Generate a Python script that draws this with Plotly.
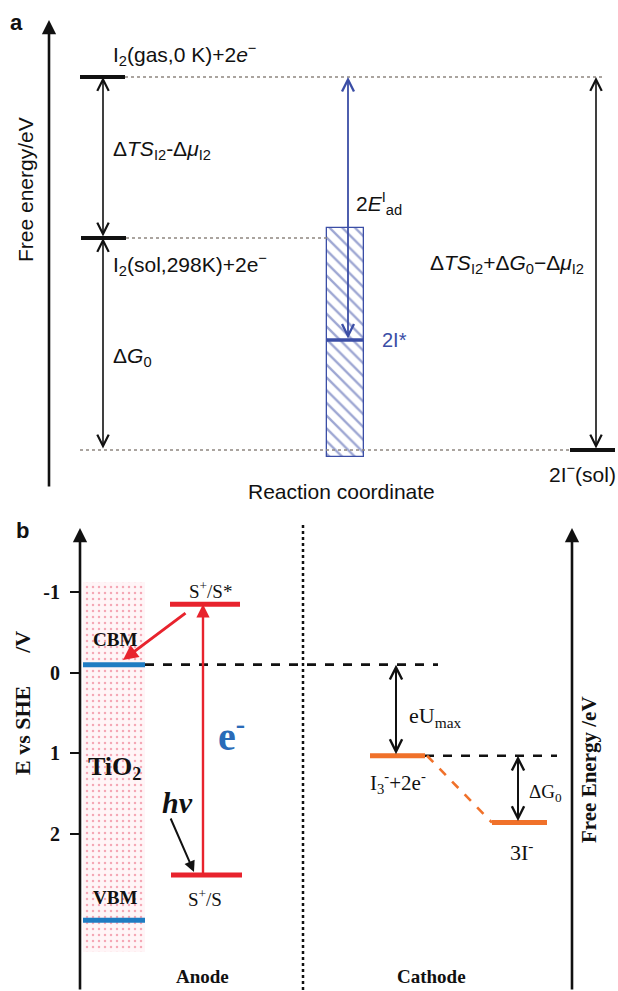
import plotly.graph_objects as go

W, H = 618, 991

# ---------------- Panel a data (free energy, eV, relative to 2I−(sol)) ----------------
a_states = ["I2(gas,0 K)", "I2(sol,298K)", "2I*", "2I-(sol)"]
a_energy = [3.73, 2.12, 1.10, 0.0]
a_hatch_low = -0.07          # spread of 2I* adsorption energies
a_hatch_high = 2.22

# ---------------- Panel b data (potential, V vs SHE) ----------------
b_levels = ["CBM", "VBM", "S+/S*", "S+/S", "I3-+2e-", "3I-"]
b_potential = [-0.10, 3.07, -0.85, 2.51, 1.03, 1.86]
tio2_low, tio2_high = -1.13, 3.47
b_tickvals = [-1, 0, 1, 2]
b_ticktext = ["-1", "0", "1", "2"]

E = dict(zip(a_states, a_energy))
V = dict(zip(b_levels, b_potential))

# ---------------- layout geometry ----------------
SPLIT = 1 - 500 / H            # paper fraction where panel b begins
A_RANGE = [-0.5, 4.5]          # panel a energy axis
B_RANGE = [(991 - 672.7) / 80.6, (500 - 672.7) / 80.6]   # reversed potential axis

def a_px(p):   # panel-a vertical layout helper (pixel -> energy units)
    return (450 - p) / 100.0

def b_px(p):   # panel-b vertical layout helper (pixel -> V units)
    return (p - 672.7) / 80.6

BLACK = "#111111"
BLUE_A = "#3b4ea6"
RED = "#e8232d"
BLUE_B = "#1f7cc2"
ORANGE = "#f0712a"
SANS = "Liberation Sans, Arial, sans-serif"
SERIF = "Liberation Serif, Times New Roman, serif"

fig = go.Figure()

def hline(x0, x1, y, color, width, dash="solid", panel="a"):
    fig.add_trace(go.Scatter(
        x=[x0, x1], y=[y, y], mode="lines",
        line=dict(color=color, width=width, dash=dash),
        xaxis="x" if panel == "a" else "x2",
        yaxis="y" if panel == "a" else "y2",
        hoverinfo="skip", showlegend=False))

def seg(x0, y0, x1, y1, color, width, dash="solid", panel="a"):
    fig.add_trace(go.Scatter(
        x=[x0, x1], y=[y0, y1], mode="lines",
        line=dict(color=color, width=width, dash=dash),
        xaxis="x" if panel == "a" else "x2",
        yaxis="y" if panel == "a" else "y2",
        hoverinfo="skip", showlegend=False))

annos = []

def arrow(x, y, ax, ay, color, width, panel="a", both=False, head=2, size=1.0):
    xr, yr = ("x", "y") if panel == "a" else ("x2", "y2")
    d = dict(x=x, y=y, ax=ax, ay=ay, xref=xr, yref=yr, axref=xr, ayref=yr,
             text="", showarrow=True, arrowcolor=color, arrowwidth=width,
             arrowhead=head, arrowsize=size, standoff=0, startstandoff=0)
    if both:
        d.update(arrowside="end+start", startarrowhead=head, startarrowsize=size)
    annos.append(d)

def label(x, y, text, size, color=BLACK, family=SANS, panel="a", xanchor="left",
          yanchor="middle", angle=0):
    xr, yr = ("x", "y") if panel == "a" else ("x2", "y2")
    annos.append(dict(x=x, y=y, xref=xr, yref=yr, text=text, showarrow=False,
                      xanchor=xanchor, yanchor=yanchor, textangle=angle,
                      font=dict(size=size, color=color, family=family)))

# ======================= Panel a =======================
# hatched 2I* band
fig.add_trace(go.Bar(
    x=[345.5], y=[a_hatch_high - a_hatch_low], base=[a_hatch_low], width=[37],
    marker=dict(color="white", line=dict(color=BLUE_A, width=1.3),
                pattern=dict(shape="\\", fgcolor=BLUE_A, bgcolor="white",
                             size=9, solidity=0.26)),
    xaxis="x", yaxis="y", hoverinfo="skip", showlegend=False))

# dotted guide lines
hline(125, 605, E["I2(gas,0 K)"], "#8f8680", 1.3, "dot")
hline(126, 327, E["I2(sol,298K)"], "#8f8680", 1.3, "dot")
hline(80, 570, E["2I-(sol)"], "#8f8680", 1.3, "dot")

# levels
hline(80, 125, E["I2(gas,0 K)"], BLACK, 4)
hline(81, 126, E["I2(sol,298K)"], BLACK, 4)
hline(570, 615, E["2I-(sol)"], BLACK, 4)
hline(327, 364, E["2I*"], BLUE_A, 3.5)

# axis arrow
arrow(49, a_px(20), 49, a_px(488), BLACK, 2.6, head=2, size=1.1)

# double arrows
arrow(103, E["I2(gas,0 K)"], 103, E["I2(sol,298K)"], BLACK, 1.6, both=True, head=5, size=1.4)
arrow(103, E["I2(sol,298K)"], 103, E["2I-(sol)"], BLACK, 1.6, both=True, head=5, size=1.4)
arrow(596, E["I2(gas,0 K)"], 596, E["2I-(sol)"], BLACK, 1.6, both=True, head=5, size=1.4)
arrow(348, E["I2(gas,0 K)"], 348, E["2I*"], BLUE_A, 1.8, both=True, head=5, size=1.3)

# panel a texts
label(8, a_px(22), "<b>a</b>", 22)
label(111, a_px(54), "I<sub>2</sub>(gas,0 K)+2<i>e</i><sup>−</sup>", 21)
label(111, a_px(150), "Δ<i>TS</i><sub>I2</sub>-Δ<i>μ</i><sub>I2</sub>", 21)
label(111, a_px(264), "I<sub>2</sub>(sol,298K)+2e<sup>−</sup>", 21)
label(111, a_px(357), "Δ<i>G</i><sub>0</sub>", 21)
label(354, a_px(203), "2<i>E</i><sup>I</sup><sub>ad</sub>", 21)
label(380, E["2I*"], "2I*", 20, color=BLUE_A)
label(428, a_px(264), "Δ<i>TS</i><sub>I2</sub>+Δ<i>G</i><sub>0</sub>−Δ<i>μ</i><sub>I2</sub>", 21)
label(547, a_px(473), "2I<sup>−</sup>(sol)", 21)
label(341, a_px(491), "Reaction coordinate", 21, xanchor="center")
label(25, a_px(190), "Free energy/eV", 21, xanchor="center", angle=-90)

# ======================= Panel b =======================
# TiO2 dotted block
fig.add_trace(go.Bar(
    x=[114], y=[tio2_high - tio2_low], base=[tio2_low], width=[62],
    marker=dict(color="#fff5f7", line=dict(width=0),
                pattern=dict(shape=".", fgcolor="#ea5a73", bgcolor="#fff5f7",
                             size=6, solidity=0.14)),
    xaxis="x2", yaxis="y2", hoverinfo="skip", showlegend=False))

# separator & dashed guides
seg(303, b_px(525), 303, b_px(991), BLACK, 2.5, "dot", panel="b")
hline(145, 438, V["CBM"], BLACK, 2.6, "dash", panel="b")
hline(425, 557, V["I3-+2e-"], BLACK, 2.6, "dash", panel="b")
seg(427, V["I3-+2e-"], 492, V["3I-"], ORANGE, 2.6, "dash", panel="b")

# levels
hline(83, 145, V["CBM"], BLUE_B, 5, panel="b")
hline(83, 145, V["VBM"], BLUE_B, 5, panel="b")
hline(170, 240, V["S+/S*"], RED, 5, panel="b")
hline(171, 242, V["S+/S"], RED, 5, panel="b")
hline(370, 425, V["I3-+2e-"], ORANGE, 5, panel="b")
hline(492, 547, V["3I-"], ORANGE, 5, panel="b")

# axes arrows
arrow(80, b_px(528), 80, b_px(991), BLACK, 2.6, panel="b", head=2, size=1.1)
arrow(572, b_px(528), 572, b_px(991), BLACK, 2.6, panel="b", head=2, size=1.1)

# process arrows
arrow(203, V["S+/S*"], 203, V["S+/S"], RED, 2.4, panel="b", head=2, size=1.1)
arrow(123, b_px(660), 187, b_px(612), RED, 3, panel="b", head=2, size=1.0)
arrow(194, b_px(872), 170, b_px(817), BLACK, 2, panel="b", head=2, size=1.1)
arrow(396, V["CBM"], 396, V["I3-+2e-"], BLACK, 2, panel="b", both=True, head=5, size=1.2)
arrow(518, V["I3-+2e-"], 518, V["3I-"], BLACK, 2, panel="b", both=True, head=5, size=1.2)

# panel b texts
label(14, b_px(530), "<b>b</b>", 22, panel="b")
label(115, b_px(639), "<b>CBM</b>", 19, family=SERIF, panel="b", xanchor="center")
label(114, b_px(768), "<b>TiO<sub>2</sub></b>", 26, family=SERIF, panel="b", xanchor="center")
label(115, b_px(897), "<b>VBM</b>", 19, family=SERIF, panel="b", xanchor="center")
label(210, b_px(590), "S<sup>+</sup>/S*", 19, family=SERIF, panel="b", xanchor="center")
label(205, b_px(898), "S<sup>+</sup>/S", 19, family=SERIF, panel="b", xanchor="center")
label(231, b_px(733), "<b>e<sup>-</sup></b>", 40, color="#2a6bb8", family=SERIF, panel="b", xanchor="center")
label(177, b_px(802), "<b><i>hv</i></b>", 30, family=SERIF, panel="b", xanchor="center")
label(202, b_px(976), "<b>Anode</b>", 19, family=SERIF, panel="b", xanchor="center")
label(431, b_px(976), "<b>Cathode</b>", 19, family=SERIF, panel="b", xanchor="center")
label(407, b_px(717), "eU<sub>max</sub>", 22, family=SERIF, panel="b")
label(398, b_px(782), "I<sub>3</sub><sup>-</sup>+2e<sup>-</sup>", 21, family=SERIF, panel="b", xanchor="center")
label(527, b_px(793), "ΔG<sub>0</sub>", 19, family=SERIF, panel="b")
label(521, b_px(851), "3I<sup>-</sup>", 22, family=SERIF, panel="b", xanchor="center")
label(22, b_px(703), "<b>E vs SHE      /V</b>", 22, family=SERIF, panel="b", xanchor="center", angle=-90)
label(589, b_px(770), "<b>Free Energy /eV</b>", 21, family=SERIF, panel="b", xanchor="center", angle=-90)

fig.update_layout(
    width=W, height=H, margin=dict(l=0, r=0, t=0, b=0),
    paper_bgcolor="white", plot_bgcolor="rgba(0,0,0,0)",
    showlegend=False, annotations=annos, bargap=0,
    xaxis=dict(domain=[0, 1], range=[0, W], visible=False, fixedrange=True, anchor="y"),
    yaxis=dict(domain=[SPLIT, 1], range=A_RANGE, visible=False, fixedrange=True, anchor="x"),
    xaxis2=dict(domain=[0, 1], range=[0, W], visible=False, fixedrange=True, anchor="y2"),
    yaxis2=dict(domain=[0, SPLIT], range=B_RANGE, fixedrange=True, anchor="free",
                position=80 / W, showline=False, showgrid=False, zeroline=False,
                tickmode="array", tickvals=b_tickvals,
                ticktext=["<b>%s</b>" % t for t in b_ticktext],
                ticks="outside", ticklen=10, tickwidth=2, tickcolor=BLACK,
                ticklabelstandoff=6,
                tickfont=dict(family=SERIF, size=20, color=BLACK)),
)

fig.write_html("out.html",
               config={"displayModeBar": False},
               post_script="document.body.style.margin='0px';document.body.style.padding='0px';")
